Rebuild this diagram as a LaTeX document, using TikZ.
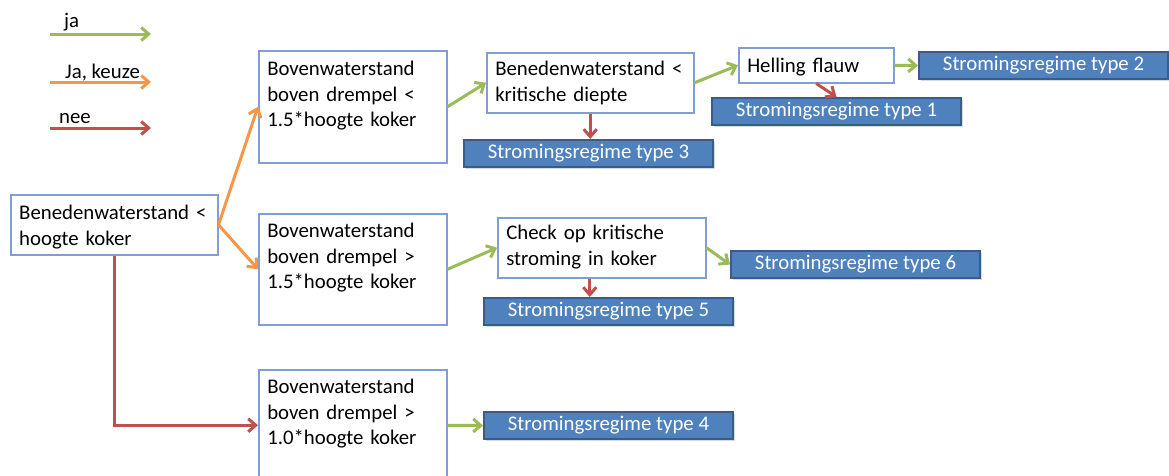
\documentclass[tikz,border=0pt]{standalone}
\usepackage{fontspec}
\setmainfont{Carlito}
\usetikzlibrary{arrows.meta, positioning, shadows}

\definecolor{jagreen}{HTML}{9BBB59}
\definecolor{keuzeorange}{HTML}{F79646}
\definecolor{neered}{HTML}{C0504D}
\definecolor{boxedge}{HTML}{7F9ED3}
\definecolor{regimeblue}{HTML}{4F81BD}
\definecolor{regimeedge}{HTML}{385D8A}

\begin{document}
\begin{tikzpicture}[x=1pt, y=-1pt, font=\fontsize{20.8}{25.4}\selectfont,
    ja/.style={draw=jagreen, line width=3pt, -{Straight Barb[length=7.5pt,width=13pt]}},
    keuze/.style={draw=keuzeorange, line width=3pt, -{Straight Barb[length=7.5pt,width=13pt]}},
    nee/.style={draw=neered, line width=3pt, -{Straight Barb[length=7.5pt,width=13pt]}}]
                \useasboundingbox (0,0) rectangle (1169,475);

                % legenda
                \begin{scope}[every node/.style={anchor=base west, inner sep=0}]
                  \node (lja) at (64,27) {ja};
                  \node (lkeuze) at (65,78) {Ja, keuze};
                  \node (lnee) at (59,123) {nee};
                \end{scope}
                \coordinate (ja0) at (50,34);    \coordinate (ja1) at (151,34);
                \coordinate (keuze0) at (50,82); \coordinate (keuze1) at (151,82);
                \coordinate (nee0) at (50,128);  \coordinate (nee1) at (151,128);
                \path (ja0) edge[ja] (ja1);
                \path (keuze0) edge[keuze] (keuze1);
                \path (nee0) edge[nee] (nee1);

                % vragen
                \begin{scope}[every node/.style={draw=boxedge, line width=1.5pt, fill=white, anchor=north west,
                    align=left, inner xsep=8.5pt, inner ysep=0pt}]
                  \node[text width=190pt, text height=25pt, text depth=35pt] (A) at (10,194)
                    {Benedenwaterstand <\\hoogte koker};
                  \node[text width=171pt, text height=25pt, text depth=87pt] (D) at (258,50)
                    {Bovenwaterstand\\boven drempel <\\1.5*hoogte koker};
                  \node[text width=171pt, text height=24pt, text depth=87pt] (B) at (258,213)
                    {Bovenwaterstand\\boven drempel >\\1.5*hoogte koker};
                  \node[text width=171pt, text height=24pt, text depth=87pt] (C) at (258,369)
                    {Bovenwaterstand\\boven drempel >\\1.0*hoogte koker};
                  \node[text width=190pt, text height=23pt, text depth=37pt] (E) at (486,52)
                    {Benedenwaterstand <\\kritische diepte};
                  \node[text width=138pt, text height=25pt, text depth=10pt] (H) at (738,47)
                    {Helling flauw};
                  \node[text width=191pt, text height=22pt, text depth=38pt] (F) at (497,217)
                    {Check op kritische\\stroming in koker};
                \end{scope}

                % stromingsregimes
                \begin{scope}[every node/.style={draw=regimeedge, line width=2pt, fill=regimeblue, text=white,
                    minimum width=249pt, minimum height=27pt, inner sep=0pt, anchor=north west,
                    drop shadow={shadow xshift=1.5pt, shadow yshift=-1.5pt, opacity=0.3}}]
                  \node (t2) at (918,51) {Stromingsregime type 2};
                  \node (t1) at (711,97) {Stromingsregime type 1};
                  \node (t3) at (463,139) {Stromingsregime type 3};
                  \node (t6) at (730,250) {Stromingsregime type 6};
                  \node (t5) at (483,297) {Stromingsregime type 5};
                  \node (t4) at (483,411) {Stromingsregime type 4};
                \end{scope}

                \coordinate (f5) at ([xshift=-12pt]F.south);

                \path (A.east) edge[keuze] (D.west);
                \path (A.east) edge[keuze] (B.west);
                \path (A.south) edge[nee, to path={|- (\tikztotarget)}] (C.west);
                \path (D.east) edge[ja] (E.west);
                \path (E.east) edge[ja] (H.west);
                \path (H.east) edge[ja] (t2.west);
                \path (H.south) edge[nee] (t1.north);
                \path (E.south) edge[nee] (E.south |- t3.north);
                \path (B.east) edge[ja] (F.west);
                \path (F.east) edge[ja] (t6.west);
                \path (f5) edge[nee] (f5 |- t5.north);
                \path (C.east) edge[ja] (t4.west);
              \end{tikzpicture}
\end{document}
